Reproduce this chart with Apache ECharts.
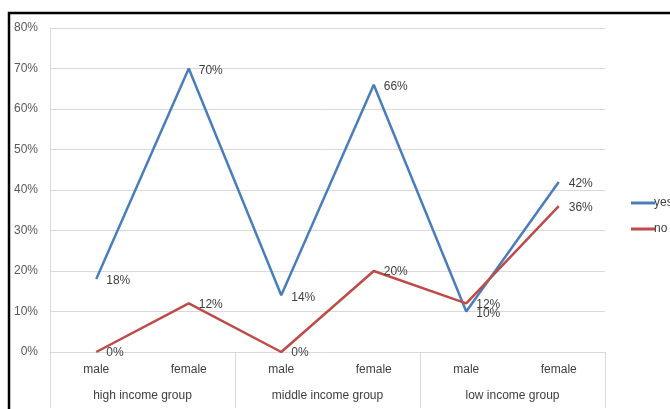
<!DOCTYPE html>
<html><head><meta charset="utf-8">
<script src="https://cdn.jsdelivr.net/npm/echarts@6/dist/echarts.min.js"></script>
<style>html,body{margin:0;padding:0;background:#fff}#c{width:670px;height:409px}</style>
</head><body><div id="c"></div>
<script>
const categories = ['male','female','male','female','male','female'];
const groups = ['high income group','middle income group','low income group'];
const yesValues = [18,70,14,66,10,42];
const noValues = [0,12,0,20,12,36];
const seriesNames = ['yes','no'];

const chart = echarts.init(document.getElementById('c'));
const font = 'Liberation Sans';
const lbl = {show:true, position:'right', distance:10, formatter:'{c}%', color:'#404040', fontSize:12, fontFamily:font};
chart.setOption({
  animation:false,
  textStyle:{fontFamily:font},
  graphic:[{type:'rect', shape:{x:9, y:13, width:800, height:600}, style:{fill:'none', stroke:'#000', lineWidth:2.5}, silent:true}],
  grid:{left:50, right:65, top:28, bottom:57},
  legend:{orient:'vertical', left:626, top:192, itemGap:14, itemWidth:24, itemHeight:3, icon:'rect',
    textStyle:{color:'#404040', fontSize:12, fontFamily:font, padding:[0,0,0,-6]},
    data:seriesNames},
  xAxis:[{
    type:'category', data:categories, boundaryGap:true,
    axisLine:{lineStyle:{color:'#D9D9D9'}},
    axisTick:{show:true, length:56, interval:function(i){return i%2===0;}, lineStyle:{color:'#D9D9D9'}},
    axisLabel:{color:'#404040', fontSize:12, margin:12, fontFamily:font}
  },{
    type:'category', data:groups, position:'bottom', offset:26,
    axisLine:{show:false}, axisTick:{show:false},
    axisLabel:{color:'#404040', fontSize:12, margin:12, fontFamily:font}
  }],
  yAxis:{type:'value', min:0, max:80, interval:10,
    axisLine:{show:true, lineStyle:{color:'#D9D9D9'}},
    axisTick:{show:false},
    splitLine:{lineStyle:{color:'#D9D9D9'}},
    axisLabel:{formatter:'{value}%', color:'#595959', fontSize:12, margin:12, fontFamily:font}
  },
  series:[
    {name:seriesNames[0], type:'line', xAxisIndex:0, data:yesValues, symbol:'circle', symbolSize:0, showSymbol:true, lineStyle:{color:'#4A7EBB', width:2.5}, itemStyle:{color:'#4A7EBB'}, label:Object.assign({}, lbl, {offset:[0,2]})},
    {name:seriesNames[1], type:'line', xAxisIndex:0, data:noValues, symbol:'circle', symbolSize:0, showSymbol:true, lineStyle:{color:'#BE4B48', width:2.5}, itemStyle:{color:'#BE4B48'}, label:Object.assign({}, lbl, {offset:[0,1]})}
  ]
});
</script></body></html>
